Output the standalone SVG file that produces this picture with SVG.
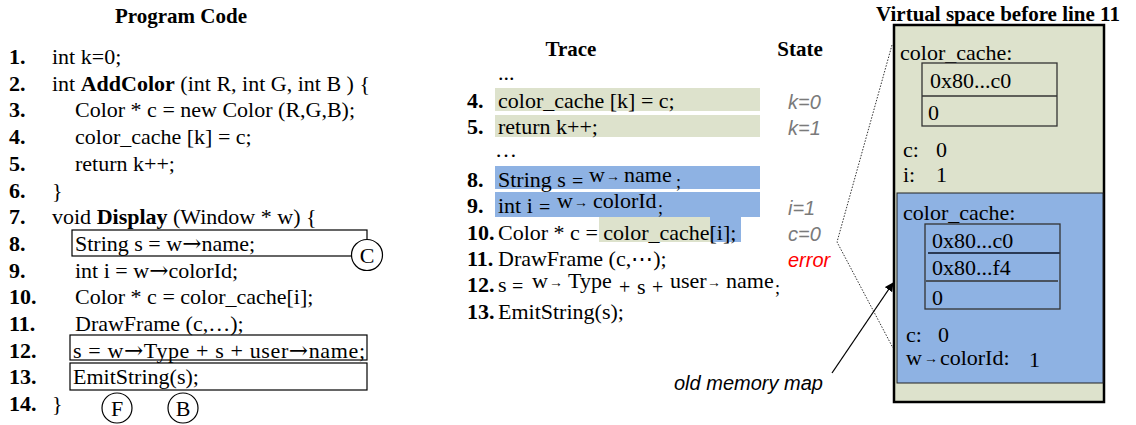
<svg xmlns="http://www.w3.org/2000/svg" width="1136" height="425" viewBox="0 0 1136 425">
  <defs>
    <marker id="arrowHead" viewBox="0 0 10 10" refX="9" refY="5" markerWidth="9" markerHeight="9" markerUnits="userSpaceOnUse" orient="auto">
      <path d="M0,0 L10,5 L0,10 z" fill="#000"/>
    </marker>
  </defs>
  <style>
    text { font-family: "Liberation Serif", "Times New Roman", serif; font-size: 22px; fill: #000; }
    .head { font-weight: bold; font-size: 21px; text-anchor: middle; }
    .num { font-weight: bold; }
    .b { font-weight: bold; }
    .ar { font-family: "DejaVu Serif", serif; font-size: 23px; }
    .state { font-family: "Liberation Sans", Arial, sans-serif; font-style: italic; font-size: 20px; fill: #7a7a7a; }
    .err { fill: #ff0000; }
    .note { font-family: "Liberation Sans", Arial, sans-serif; font-style: italic; font-size: 20px; }
    .mark { text-anchor: middle; }
    .box { fill: none; stroke: #000; stroke-width: 1.2; }
    .circ { fill: #fff; stroke: #000; stroke-width: 1.2; }
    .hlG { fill: #dde2cc; }
    .hlB { fill: #8eb2e3; }
    .cell { fill: none; stroke: #333; stroke-width: 1.3; }
    .sm { font-size: 14px; }
  </style>

  <!-- Left column: source listing -->
  <g id="program-code">
    <text class="head" x="181" y="23" font-size="22">Program Code</text>
    <g id="code-lines">
      <text class="num" x="9" y="64">1.</text><text x="52" y="64">int k=0;</text>
      <text class="num" x="9" y="91">2.</text><text x="52" y="91">int <tspan class="b">AddColor</tspan> (int R, int G, int B ) {</text>
      <text class="num" x="9" y="117">3.</text><text x="75" y="117">Color * c = new Color (R,G,B);</text>
      <text class="num" x="9" y="144">4.</text><text x="75" y="144">color_cache [k] = c;</text>
      <text class="num" x="9" y="171">5.</text><text x="75" y="171">return k++;</text>
      <text class="num" x="9" y="198">6.</text><text x="52" y="198">}</text>
      <text class="num" x="9" y="224">7.</text><text x="52" y="224">void <tspan class="b">Display</tspan> (Window * w) {</text>
      <text class="num" x="9" y="251">8.</text><text x="75" y="251">String s = w<tspan class="ar">→</tspan>name;</text>
      <text class="num" x="9" y="278">9.</text><text x="75" y="278">int i = w<tspan class="ar">→</tspan>colorId;</text>
      <text class="num" x="9" y="304">10.</text><text x="75" y="304">Color * c = color_cache[i];</text>
      <text class="num" x="9" y="331">11.</text><text x="75" y="331">DrawFrame (c,…);</text>
      <text class="num" x="9" y="358">12.</text><text x="73" y="358" textLength="292" lengthAdjust="spacing">s = w<tspan class="ar">→</tspan>Type + s + user<tspan class="ar">→</tspan>name;</text>
      <text class="num" x="9" y="384">13.</text><text x="73" y="384">EmitString(s);</text>
      <text class="num" x="9" y="411">14.</text><text x="52" y="411">}</text>
    </g>
    <g id="mark-boxes">
      <rect class="box" x="72" y="230" width="295" height="26"/>
      <rect class="box" x="70" y="335" width="297" height="25"/>
      <rect class="box" x="70" y="363" width="297" height="27"/>
    </g>
    <g id="mark-C">
      <circle class="circ" cx="367" cy="255" r="15.5"/>
      <text class="mark" x="367" y="263">C</text>
    </g>
    <g id="mark-F">
      <circle class="circ" cx="117" cy="408" r="15"/>
      <text class="mark" x="117" y="416">F</text>
    </g>
    <g id="mark-B">
      <circle class="circ" cx="183" cy="408" r="15"/>
      <text class="mark" x="183" y="416">B</text>
    </g>
  </g>

  <!-- Middle column: execution trace and state -->
  <g id="trace">
    <text class="head" x="571" y="56">Trace</text>
    <text class="head" x="800" y="56">State</text>
    <g id="trace-highlights">
      <rect class="hlG" x="495" y="88" width="265" height="23"/>
      <rect class="hlG" x="495" y="115" width="265" height="22"/>
      <rect class="hlB" x="495" y="166" width="265" height="23"/>
      <rect class="hlB" x="495" y="192" width="265" height="25"/>
      <rect class="hlG" x="599" y="217" width="111" height="25"/>
      <rect class="hlB" x="710" y="217" width="31" height="25"/>
    </g>
    <text x="498" y="80">...</text>
    <text class="num" x="467" y="108">4.</text><text x="498" y="108">color_cache [k] = c;</text>
    <text class="num" x="467" y="134">5.</text><text x="498" y="134">return k++;</text>
    <text x="495" y="157" letter-spacing="2">…</text>
    <text class="num" x="467" y="187">8.</text>
    <text y="187"><tspan x="498">String s</tspan><tspan x="572" y="188" font-size="20">=</tspan><tspan x="589" y="182">w</tspan><tspan x="606" y="181" class="sm">→</tspan><tspan x="624" y="182">name</tspan><tspan x="676" y="188" font-size="18">;</tspan></text>
    <text class="num" x="467" y="213">9.</text>
    <text y="213"><tspan x="498">int i</tspan><tspan x="539" y="214" font-size="20">=</tspan><tspan x="557" y="208">w</tspan><tspan x="574" y="207" class="sm">→</tspan><tspan x="593" y="208">colorId</tspan><tspan x="658" y="214" font-size="18">;</tspan></text>
    <text class="num" x="467" y="240">10.</text><text x="498" y="240">Color * c = color_cache[i];</text>
    <text class="num" x="467" y="266">11.</text><text x="498" y="266">DrawFrame (c,⋯);</text>
    <text class="num" x="467" y="292">12.</text>
    <text y="292"><tspan x="498">s</tspan><tspan x="512" y="293" font-size="20">=</tspan><tspan x="532" y="288">w</tspan><tspan x="549" y="287" class="sm">→</tspan><tspan x="568" y="288">Type</tspan><tspan x="619" y="294" font-size="20">+</tspan><tspan x="637" y="294">s</tspan><tspan x="652" y="294" font-size="20">+</tspan><tspan x="670" y="288">user</tspan><tspan x="707" y="287" class="sm">→</tspan><tspan x="726" y="288">name</tspan><tspan x="775" y="294" font-size="18">;</tspan></text>
    <text class="num" x="467" y="319">13.</text><text x="498" y="319">EmitString(s);</text>
    <g id="state-values">
      <text class="state" x="788" y="109">k=0</text>
      <text class="state" x="788" y="135">k=1</text>
      <text class="state" x="788" y="215">i=1</text>
      <text class="state" x="788" y="241">c=0</text>
      <text class="state err" x="788" y="267">error</text>
    </g>
    <text class="note" x="674" y="390">old memory map</text>
  </g>

  <!-- Right column: address space snapshot -->
  <g id="virtual-space">
    <text class="head" x="998" y="21">Virtual space before line 11</text>
    <rect x="894" y="25" width="210" height="377" fill="#dde2cc" stroke="#000" stroke-width="2.5"/>
    <g id="old-map">
      <text x="900" y="60">color_cache:</text>
      <rect class="cell" x="922" y="63" width="135" height="63"/>
      <line class="cell" x1="922" y1="96" x2="1057" y2="96"/>
      <text x="930" y="88">0x80...c0</text>
      <text x="928" y="120">0</text>
      <text x="903" y="157">c:</text><text x="936" y="157">0</text>
      <text x="903" y="182">i:</text><text x="936" y="182">1</text>
    </g>
    <g id="new-map">
      <rect x="897" y="193" width="206" height="190" fill="#8eb2e3" stroke="#222" stroke-width="1"/>
      <text x="903" y="220">color_cache:</text>
      <rect class="cell" x="925" y="224" width="135" height="85"/>
      <line x1="928" y1="253" x2="1060" y2="253" stroke="#2a3a55" stroke-width="2"/>
      <line class="cell" x1="926" y1="281" x2="1058" y2="281"/>
      <text x="932" y="248">0x80...c0</text>
      <text x="932" y="275">0x80...f4</text>
      <text x="932" y="305">0</text>
      <text x="906" y="342">c:</text><text x="938" y="342">0</text>
      <text x="906" y="365">w<tspan class="sm" dx="2" dy="-2">→</tspan><tspan dx="2" dy="2">colorId:</tspan></text>
      <text x="1029" y="367">1</text>
    </g>
  </g>

  <!-- Connectors -->
  <g id="connectors">
    <polyline points="892,45 837,242 893,348" fill="none" stroke="#333" stroke-width="1" stroke-dasharray="1.5 1.5"/>
    <line x1="832" y1="373" x2="893" y2="283" stroke="#000" stroke-width="1.3" marker-end="url(#arrowHead)"/>
  </g>
</svg>
